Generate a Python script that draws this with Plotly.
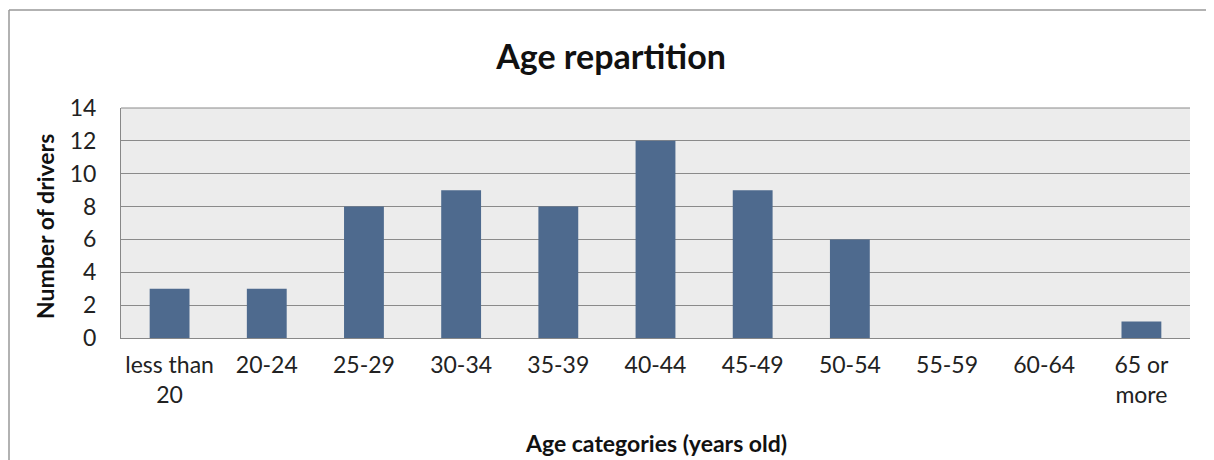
import plotly.graph_objects as go

categories = ["less than<br>20", "20-24", "25-29", "30-34", "35-39", "40-44",
              "45-49", "50-54", "55-59", "60-64", "65 or<br>more"]
drivers = [3, 3, 8, 9, 8, 12, 9, 6, 0, 0, 1]
y_ticks = [0, 2, 4, 6, 8, 10, 12, 14]

# page offset from default body margin
OFF = 8
W, H = 1214 - OFF, 460 - OFF
ml, mt = 121 - OFF, 108 - OFF
pw = 1190 - 121
ph = 338 - 108
mr = W - ml - pw
mb = H - mt - ph


def px_x(x):
    return (x - OFF - ml) / pw


def px_y(y):
    return 1 - (y - OFF - mt) / ph


fig = go.Figure(go.Bar(
    x=categories, y=drivers,
    marker=dict(color="#4E6A8E", line=dict(width=0)),
))

font = "Lato, 'Open Sans', sans-serif"
fig.update_layout(
    width=W, height=H,
    margin=dict(l=ml, r=mr, t=mt, b=mb),
    paper_bgcolor="white",
    plot_bgcolor="#ECECEC",
    bargap=0.59,
    showlegend=False,
    font=dict(family=font, size=23, color="#222"),
    title=dict(text="<b>Age repartition</b>", x=0.5, xanchor="center",
               y=1 - (57 - OFF) / H, yanchor="middle", font=dict(size=34, color="#111")),
    xaxis=dict(
        showgrid=False, showline=True, linecolor="#888", linewidth=1,
        ticks="", tickfont=dict(size=23, color="#222"), automargin=False,
        ticklabelstandoff=6,
    ),
    yaxis=dict(
        range=[0, 14], tickvals=y_ticks, showgrid=True, gridcolor="#8A8A8A", gridwidth=1,
        showline=True, linecolor="#888", ticks="", zeroline=False,
        tickfont=dict(size=23, color="#222"), automargin=False,
        ticklabelstandoff=19,
    ),
    annotations=[
        dict(text="<b>Age categories (years old)</b>", xref="paper", yref="paper",
             x=0.5, y=px_y(443), xanchor="center", yanchor="middle",
             showarrow=False, font=dict(size=23, color="#111")),
        dict(text="<b>Number of drivers</b>", xref="paper", yref="paper",
             x=px_x(45), y=px_y(227), xanchor="center", yanchor="middle",
             textangle=-90, showarrow=False, font=dict(size=23, color="#111")),
    ],
    shapes=[
        dict(type="line", xref="paper", yref="paper",
             x0=px_x(9), x1=px_x(9), y0=px_y(470), y1=px_y(10),
             line=dict(color="#999", width=1.5), layer="below"),
        dict(type="line", xref="paper", yref="paper",
             x0=px_x(9), x1=px_x(1214), y0=px_y(10), y1=px_y(10),
             line=dict(color="#999", width=1.5), layer="below"),
        dict(type="line", xref="paper", yref="paper", x0=0, x1=1, y0=1, y1=1,
             line=dict(color="#8A8A8A", width=1)),
    ],
)

fig.write_html("out.html")
